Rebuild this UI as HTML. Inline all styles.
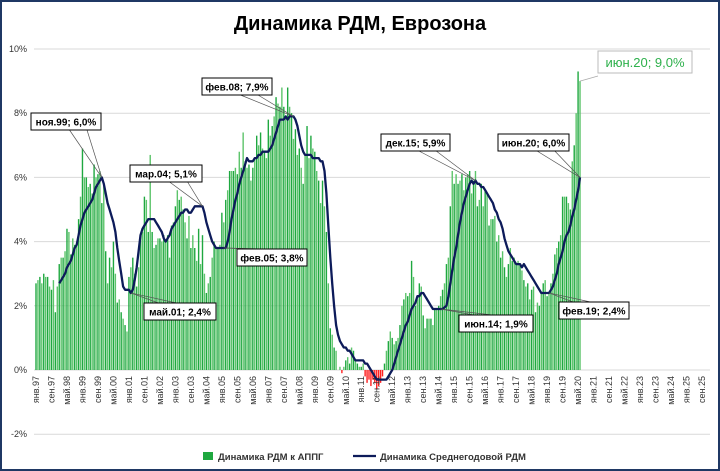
<!DOCTYPE html>
<html><head><meta charset="utf-8">
<style>
body{margin:0;background:#fff;}
#wrap{position:relative;width:716px;height:467px;border:2px solid #1f3864;overflow:hidden;font-family:"Liberation Sans",sans-serif;}
</style></head>
<body>
<div id="wrap">
<svg id="chart" width="716" height="467"></svg>
</div>
<script>
const startYear = 1997;
const yTicks = [10, 8, 6, 4, 2, 0, -2];
const monthNames = ["янв","фев","мар","апр","май","июн","июл","авг","сен","окт","ноя","дек"];
const bars = [
2.7,2.8,2.9,2.7,3.0,2.9,2.9,2.6,2.5,2.8,1.8,2.6,
3.3,3.5,3.5,3.7,4.4,4.3,3.6,4.1,3.9,4.0,4.7,5.4,
6.9,6.0,6.0,5.7,5.8,5.5,6.4,6.0,6.1,6.2,5.2,5.8,
3.7,2.7,3.5,3.2,4.0,3.0,2.1,2.2,1.8,1.6,1.4,1.2,
2.9,3.2,3.5,3.0,2.6,3.2,4.2,4.3,5.4,5.3,4.3,6.7,
4.3,3.8,3.9,4.1,4.1,4.0,4.2,4.0,4.2,3.5,4.5,4.6,
5.1,5.6,5.3,5.4,5.0,4.6,4.1,4.8,3.8,4.2,3.8,3.4,
4.4,3.3,4.2,3.0,2.4,2.7,2.9,3.5,4.0,3.8,3.8,3.9,
4.9,4.6,5.3,5.6,6.2,6.2,6.2,6.3,6.1,6.8,6.3,7.4,
6.5,6.3,6.4,5.9,6.3,6.6,7.3,7.0,7.4,6.9,6.8,6.6,
7.8,7.3,7.6,7.9,8.5,8.3,8.2,8.8,8.2,7.9,8.8,8.2,
8.0,7.2,7.5,6.7,6.9,6.3,5.8,6.7,7.6,6.6,7.3,6.9,
6.8,6.2,5.9,5.2,5.9,5.1,4.3,2.7,1.3,1.1,0.7,0.6,
0.0,0.1,-0.1,0.1,0.3,0.4,0.2,0.7,0.6,0.3,0.2,0.1,
0.1,0.2,-0.2,-0.4,-0.3,-0.5,-0.3,-0.4,-0.6,-0.5,-0.4,-0.2,
0.2,0.6,0.9,1.2,1.0,0.8,0.9,1.0,1.4,2.0,2.2,2.4,
2.3,2.4,3.4,2.9,2.0,2.2,2.7,2.6,1.7,1.3,1.6,1.6,
1.6,1.4,1.9,1.9,2.0,2.3,2.5,2.7,3.3,3.5,5.1,6.2,
5.8,6.1,5.8,5.9,6.1,5.6,6.0,6.1,6.2,5.5,5.9,6.2,
5.1,5.3,5.8,5.1,5.6,5.5,4.5,4.7,4.7,4.8,4.0,4.2,
3.5,3.7,3.2,2.9,3.3,3.8,3.4,3.5,3.3,3.4,3.3,3.1,
2.8,2.6,2.7,2.2,2.5,2.6,1.8,2.1,2.0,2.4,2.7,2.8,
2.3,2.4,2.7,3.0,3.6,3.8,4.0,4.2,5.4,5.4,5.4,5.2,
5.0,6.5,7.0,8.0,9.3,9.0];
const lineStart = 12;
const avgLine = [
2.7,2.8,2.9,3.0,3.2,3.3,3.4,3.6,3.8,3.9,4.2,4.5,
4.7,4.9,5.0,5.1,5.2,5.3,5.5,5.7,5.8,5.9,6.0,5.8,
5.5,5.2,5.0,4.8,4.6,4.3,3.8,3.4,3.0,2.6,2.5,2.5,
2.5,2.4,2.5,2.8,3.2,3.7,4.2,4.4,4.5,4.6,4.7,4.7,
4.7,4.7,4.6,4.5,4.4,4.3,4.1,4.0,4.1,4.2,4.4,4.5,
4.6,4.7,4.8,4.9,4.9,5.0,5.0,4.9,4.9,5.0,5.1,5.1,
5.1,5.1,5.1,4.9,4.6,4.4,4.2,4.0,3.9,3.8,3.8,3.8,
3.8,3.8,3.8,4.0,4.3,4.7,5.0,5.3,5.5,5.8,6.0,6.2,
6.4,6.6,6.5,6.5,6.5,6.6,6.6,6.7,6.7,6.8,6.8,6.8,
6.8,6.9,7.0,7.2,7.4,7.6,7.8,7.8,7.8,7.9,7.8,7.9,
7.9,7.9,7.8,7.6,7.3,7.0,6.8,6.7,6.7,6.7,6.7,6.6,
6.6,6.6,6.6,6.5,6.5,6.2,5.5,4.5,3.5,2.7,2.0,1.4,
1.1,0.9,0.8,0.7,0.7,0.6,0.6,0.5,0.4,0.3,0.3,0.3,
0.3,0.3,0.2,0.2,0.1,0.0,-0.1,-0.2,-0.3,-0.3,-0.3,-0.3,
-0.3,-0.3,-0.2,-0.1,0.0,0.2,0.4,0.6,0.8,1.0,1.2,1.4,
1.5,1.7,1.9,2.0,2.1,2.3,2.3,2.4,2.4,2.3,2.2,2.1,
2.0,1.9,1.9,1.9,1.9,1.9,1.9,1.95,2.0,2.3,2.7,3.1,
3.5,3.8,4.2,4.6,4.9,5.2,5.4,5.6,5.8,5.9,5.8,5.9,
5.8,5.8,5.7,5.7,5.6,5.5,5.4,5.3,5.2,5.0,4.9,4.7,
4.6,4.4,4.1,3.9,3.7,3.6,3.5,3.4,3.3,3.3,3.3,3.2,
3.3,3.2,3.1,3.0,2.9,2.8,2.7,2.6,2.5,2.4,2.4,2.4,
2.4,2.4,2.5,2.6,2.8,3.0,3.3,3.5,3.7,4.0,4.2,4.3,
4.5,4.8,5.0,5.3,5.6,6.0];
const annotations = [
 {m:34, text:"ноя.99; 6,0%", bx:31, by:113, bw:70},
 {m:49, text:"май.01; 2,4%", bx:144, by:303, bw:72},
 {m:86, text:"мар.04; 5,1%", bx:130, by:165, bw:72},
 {m:97, text:"фев.05; 3,8%", bx:237, by:249, bw:70},
 {m:133, text:"фев.08; 7,9%", bx:202, by:78, bw:70},
 {m:209, text:"июн.14; 1,9%", bx:459, by:315, bw:74},
 {m:227, text:"дек.15; 5,9%", bx:381, by:134, bw:69},
 {m:265, text:"фев.19; 2,4%", bx:559, by:302, bw:70},
 {m:281, text:"июн.20; 6,0%", bx:498, by:134, bw:71}
];
const NS = "http://www.w3.org/2000/svg";
const svg = document.getElementById('chart');
const OX = -2, OY = -2;
const x = m => 36 + 1.936 * m + OX;
const y = v => 370 - v * 32.1 + OY;
function el(tag, attrs, parent){const e=document.createElementNS(NS,tag);for(const k in attrs)e.setAttribute(k,attrs[k]);(parent||svg).appendChild(e);return e;}

const title = el('text',{x:358,y:28,'text-anchor':'middle','font-size':20,'font-weight':'bold',fill:'#000'});
title.textContent = "Динамика РДМ, Еврозона";



yTicks.forEach(t=>{
  const g = el('line',{x1:34+OX,x2:710+OX,y1:y(t),y2:y(t),stroke:'#d9d9d9','stroke-width':1});
  
  
  const lb = el('text',{x:27+OX,y:y(t)+3,'text-anchor':'end','font-size':9,fill:'#333'});
  lb.textContent = t + '%';
  
  
});

bars.forEach((v,i)=>{
  const neg = v < 0;
  const r = el('rect',{x:x(i)-0.7,width:1.4,y:neg?y(0):y(v),height:Math.abs(y(v)-y(0)),fill:neg?'#ff2020':(i%2?'#5cc46a':'#1fa840')});
  
  
});

for(let m=0;m<=344;m+=8){
  const lbl = monthNames[m%12] + '.' + String((startYear + Math.floor(m/12))%100).padStart(2,'0');
  const t = el('text',{transform:`translate(${x(m)+3},${376+OY}) rotate(-90)`,'text-anchor':'end','font-size':9,fill:'#333'});
  t.textContent = lbl;
  
  
}

const pts = avgLine.map((v,i)=>`${x(i+lineStart).toFixed(1)},${y(v).toFixed(1)}`).join(' ');
const pl = el('polyline',{points:pts,fill:'none',stroke:'#0d1b5a','stroke-width':2.3,'stroke-linejoin':'round'});



annotations.forEach(a=>{
  const px = x(a.m), py = y(avgLine[a.m-lineStart]);
  const bx=a.bx+OX, by=a.by+OY, bh=17;
  const below = py > by+bh;
  const ey = below ? by+bh : by;
  const midx = bx + a.bw/2;
  const ln = el('line',{x1:px>midx? bx+a.bw*0.8 : bx+a.bw*0.2,y1:ey,x2:px,y2:py,stroke:'#555','stroke-width':0.7});
  
  
  const ln2 = el('line',{x1:px>midx? bx+a.bw*0.55 : bx+a.bw*0.45,y1:ey,x2:px,y2:py,stroke:'#555','stroke-width':0.7});
  
  
  const box = el('rect',{x:bx,y:by,width:a.bw,height:bh,fill:'#fff',stroke:'#000','stroke-width':1});
  
  
  const t = el('text',{x:bx+a.bw/2,y:by+12.5,'text-anchor':'middle','font-size':10,'font-weight':'bold',fill:'#000'});
  t.textContent = a.text;
  
  
});

const lm = bars.length-1;
const gl = el('line',{x1:x(lm),y1:y(bars[lm]),x2:598+OX,y2:76+OY,stroke:'#aaa','stroke-width':0.8});


const gb = el('rect',{x:598+OX,y:51+OY,width:94,height:22,fill:'#fff',stroke:'#bbb','stroke-width':1});


const gt = el('text',{x:645+OX,y:67+OY,'text-anchor':'middle','font-size':13,fill:'#2db04b'});
gt.textContent = "июн.20; 9,0%";



const lg1 = el('rect',{x:203+OX,y:452+OY,width:10,height:8,fill:'#1fa840'});


const lt1 = el('text',{x:218+OX,y:460+OY,'font-size':9.5,'font-weight':'bold',fill:'#333'});
lt1.textContent = "Динамика РДМ к АППГ";


const lg2 = el('line',{x1:353+OX,x2:376+OX,y1:456+OY,y2:456+OY,stroke:'#0d1b5a','stroke-width':2.3});


const lt2 = el('text',{x:380+OX,y:460+OY,'font-size':9.5,'font-weight':'bold',fill:'#333'});
lt2.textContent = "Динамика Среднегодовой РДМ";


</script>
</body></html>
